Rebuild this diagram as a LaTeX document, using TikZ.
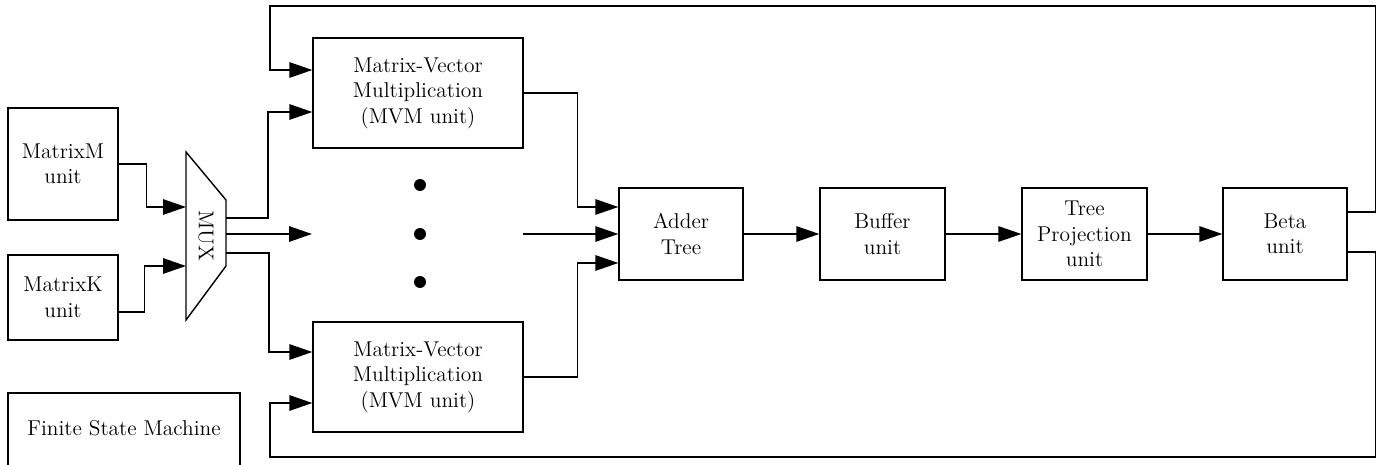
\documentclass[tikz,border=0pt]{standalone}
\usetikzlibrary{arrows.meta}
\begin{document}
\begin{tikzpicture}[x=0.02cm,y=-0.02cm,line width=0.8pt,
  txt/.style={font=\fontsize{12.2}{14.5}\selectfont},
  blk/.style={txt,draw,align=center,inner sep=0pt},
  arr/.style={-{Triangle[length=4.6mm,width=3.1mm]}}]
\useasboundingbox (0,0) rectangle (1388,465);
% input units
\node[blk,minimum width=2.2cm,minimum height=2.24cm] (mm) at (63,164) {MatrixM\\unit};
\node[blk,minimum width=2.2cm,minimum height=1.7cm] (mk) at (63,297.5) {MatrixK\\unit};
% mux
\draw (186,152) -- (226,200) -- (226,266) -- (186,320) -- cycle;
\node[txt,rotate=-90] (mux) at (206,236) {MUX};
\coordinate (muxinA) at (186,207);
\coordinate (muxinB) at (186,266);
\coordinate (muxoutA) at (226,218);
\coordinate (muxoutB) at (226,234);
\coordinate (muxoutC) at (226,253);
% mvm units
\node[blk,minimum width=4.2cm,minimum height=2.2cm] (mvmA) at (418,93) {Matrix-Vector\\Multiplication\\(MVM unit)};
\node[blk,minimum width=4.2cm,minimum height=2.2cm] (mvmB) at (418,377) {Matrix-Vector\\Multiplication\\(MVM unit)};
\node[circle,fill,inner sep=0pt,minimum size=0.24cm] (dotA) at (420,185) {};
\node[circle,fill,inner sep=0pt,minimum size=0.24cm] (dotB) at (420,234) {};
\node[circle,fill,inner sep=0pt,minimum size=0.24cm] (dotC) at (420,282) {};
\coordinate (gapL) at (312,234);
\coordinate (gapR) at (523,234);
% pipeline
\node[blk,minimum width=2.48cm,minimum height=1.84cm] (adder) at (681,234) {Adder\\Tree};
\node[blk,minimum width=2.5cm,minimum height=1.84cm] (buffer) at (882.5,234) {Buffer\\unit};
\node[blk,minimum width=2.5cm,minimum height=1.84cm] (proj) at (1084.5,234) {Tree\\Projection\\unit};
\node[blk,minimum width=2.48cm,minimum height=1.84cm] (beta) at (1285,234) {Beta\\unit};
% fsm
\draw (8,465) |- (240,393) -- (240,465);
\node[txt] (fsm) at (124,428) {Finite State Machine};
\coordinate (topL) at (270,6);
\coordinate (botL) at (270,457);
% connectors
\draw[arr] (mm.east) -- ++(28,0) |- (muxinA);
\draw[arr] ([yshift=-0.29cm]mk.east) -- ++(26,0) |- (muxinB);
\draw[arr] (muxoutA) -- ++(42,0) |- ([yshift=-0.38cm]mvmA.west);
\draw[arr] (muxoutB) -- (gapL);
\draw[arr] (muxoutC) -- ++(43,0) |- ([yshift=0.5cm]mvmB.west);
\draw[arr] (mvmA.east) -- ++(54,0) |- ([yshift=0.54cm]adder.west);
\draw[arr] (gapR) -- (adder.west);
\draw[arr] (mvmB.east) -- ++(54,0) |- ([yshift=-0.58cm]adder.west);
\draw[arr] (adder) -- (buffer);
\draw[arr] (buffer) -- (proj);
\draw[arr] (proj) -- (beta);
\draw[arr] ([yshift=0.44cm]beta.east) -- ++(28,0) |- (topL) |- ([yshift=0.46cm]mvmA.west);
\draw[arr] ([yshift=-0.36cm]beta.east) -- ++(28,0) |- (botL) |- ([yshift=-0.52cm]mvmB.west);
\end{tikzpicture}
\end{document}
